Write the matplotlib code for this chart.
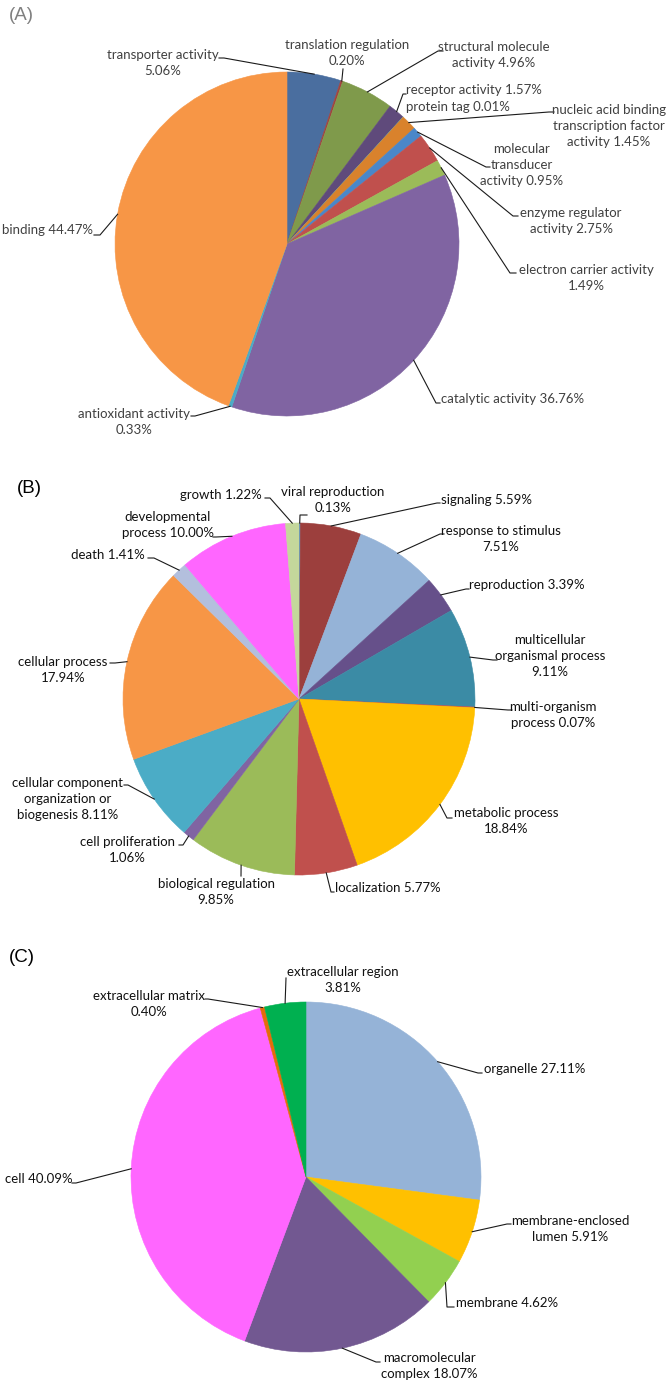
import matplotlib
matplotlib.use("Agg")
import matplotlib.pyplot as plt
import numpy as np

plt.rcParams['font.family'] = ['Lato', 'DejaVu Sans']

# (A) molecular function
mf_names = ["transporter activity", "translation regulation", "structural molecule activity",
            "receptor activity", "protein tag",
            "nucleic acid binding transcription factor activity",
            "molecular transducer activity", "enzyme regulator activity",
            "electron carrier activity", "catalytic activity", "antioxidant activity", "binding"]
mf_values = [5.06, 0.20, 4.96, 1.57, 0.01, 1.45, 0.95, 2.75, 1.49, 36.76, 0.33, 44.47]

# (B) biological process
bp_names = ["viral reproduction", "signaling", "response to stimulus", "reproduction",
            "multicellular organismal process", "multi-organism process", "metabolic process",
            "localization", "biological regulation", "cell proliferation",
            "cellular component organization or biogenesis", "cellular process", "death",
            "developmental process", "growth"]
bp_values = [0.13, 5.59, 7.51, 3.39, 9.11, 0.07, 18.84, 5.77, 9.85, 1.06, 8.11, 17.94, 1.41, 10.00, 1.22]

# (C) cellular component
cc_names = ["organelle", "membrane-enclosed lumen", "membrane", "macromolecular complex",
            "cell", "extracellular matrix", "extracellular region"]
cc_values = [27.11, 5.91, 4.62, 18.07, 40.09, 0.40, 3.81]

mf_colors = ["#4a6e9f", "#a0443f", "#7f9a4b", "#5f4a7b", "#4bacc6", "#d9822c",
             "#4a87c9", "#c0504d", "#9bbb59", "#8064a2", "#4bacc6", "#f79646"]
bp_colors = ["#4f81bd", "#9c3f3d", "#95b3d7", "#66508a", "#3b8ba5", "#c0504d", "#ffc000",
             "#c0504d", "#9bbb59", "#8064a2", "#4bacc6", "#f79646", "#b3bfdd", "#ff66ff", "#c4d79b"]
cc_colors = ["#95b3d7", "#ffc000", "#92d050", "#725891", "#ff66ff", "#e46c0a", "#00b050"]

# label layout: words per line, text x, y, alignment, leader (elbow x, elbow y, end x)
mf_layout = [([2, 1], 163, 63, 'center', (224, 58, 219)),
             ([2, 1], 347, 53, 'center', (343, 69, 343)),
             ([2, 2], 494, 55, 'center', (438, 51, 443)),
             ([3], 406, 90, 'left', (403, 94, 406)),
             ([3], 406, 107, 'left', None),
             ([3, 2, 2], 609, 126, 'center', (549, 112, 554)),
             ([1, 1, 2], 522, 165, 'center', (486, 167, 490)),
             ([2, 2], 571, 221, 'center', (513, 216, 518)),
             ([3, 1], 586, 278, 'center', (510, 273, 516)),
             ([3], 441, 399, 'left', (436, 403, 440)),
             ([2, 1], 134, 422, 'center', (195, 416, 191)),
             ([2], 93, 230, 'right', (100, 235, 94))]
bp_layout = [([2, 1], 333, 500, 'center', (300, 515, 307)),
             ([2], 441, 500, 'left', (437, 503, 440)),
             ([3, 1], 501, 539, 'center', (440, 534, 444)),
             ([2], 469, 585, 'left', (466, 589, 469)),
             ([1, 2, 1], 550, 656, 'center', (493, 660, 497)),
             ([1, 2], 553, 715, 'center', (508, 710, 512)),
             ([2, 1], 506, 821, 'center', (447, 818, 452)),
             ([2], 335, 888, 'left', (331, 892, 334)),
             ([2, 1], 216, 892, 'center', (241, 876, 241)),
             ([2, 1], 127, 850, 'center', (183, 845, 179)),
             ([2, 2, 2], 68, 799, 'center', (128, 785, 124)),
             ([2, 1], 63, 670, 'center', (115, 663, 110)),
             ([2], 145, 555, 'right', (154, 558, 148)),
             ([1, 2], 168, 525, 'center', (216, 537, 213)),
             ([2], 262, 495, 'right', (270, 498, 265))]
cc_layout = [([2], 484, 1069, 'left', (478, 1073, 482)),
             ([1, 2], 570, 1229, 'center', (507, 1224, 511)),
             ([2], 456, 1303, 'left', (447, 1307, 454)),
             ([1, 2], 429, 1366, 'center', (376, 1362, 380)),
             ([2], 5, 1179, 'left', (76, 1183, 72)),
             ([2, 1], 149, 1004, 'center', (208, 999, 205)),
             ([2, 1], 343, 980, 'center', (286, 978, 286))]


def wrap(name, value, counts):
    words = (name + " %.2f%%" % value).split()
    lines = []
    i = 0
    for n in counts:
        lines.append(" ".join(words[i:i + n]))
        i += n
    return "\n".join(lines)


def draw_pie(ax, values, names, colors, layout, center, radius, tcolor):
    wedges, _ = ax.pie(values, colors=colors, startangle=-90, counterclock=True,
                       center=center, radius=radius, frame=True,
                       wedgeprops=dict(linewidth=0.4))
    for w in wedges:
        w.set_edgecolor(w.get_facecolor())
    for w, name, v, lay in zip(wedges, names, values, layout):
        counts, tx, ty, ha, leader = lay
        ax.text(tx, ty, wrap(name, v, counts), ha=ha, va='center', multialignment=ha,
                fontsize=9.5, color=tcolor, linespacing=1.4)
        if leader is None:
            continue
        mid = np.deg2rad((w.theta1 + w.theta2) / 2)
        px = w.center[0] + w.r * np.cos(mid)
        py = w.center[1] + w.r * np.sin(mid)
        ex, ey, fx = leader
        ax.plot([px, ex, fx], [py, ey, ey], color='#1a1a1a', lw=0.8)


fig = plt.figure(figsize=(6.68, 13.88), dpi=100)
ax = fig.add_axes([0, 0, 1, 1])

draw_pie(ax, mf_values, mf_names, mf_colors, mf_layout, (287, 244), 172, '#404040')
draw_pie(ax, bp_values, bp_names, bp_colors, bp_layout, (299, 699), 176, '#111111')
draw_pie(ax, cc_values, cc_names, cc_colors, cc_layout, (306, 1177), 175, '#111111')

ax.text(9, 15, "(A)", fontsize=13.5, color='#808080', va='center', family='Liberation Sans')
ax.text(17, 488, "(B)", fontsize=13.5, color='black', va='center', family='Liberation Sans')
ax.text(9, 957, "(C)", fontsize=13.5, color='black', va='center', family='Liberation Sans')

ax.set_xlim(0, 668)
ax.set_ylim(1388, 0)
ax.set_aspect('auto')
ax.axis('off')

fig.savefig("out.png", dpi=100)
